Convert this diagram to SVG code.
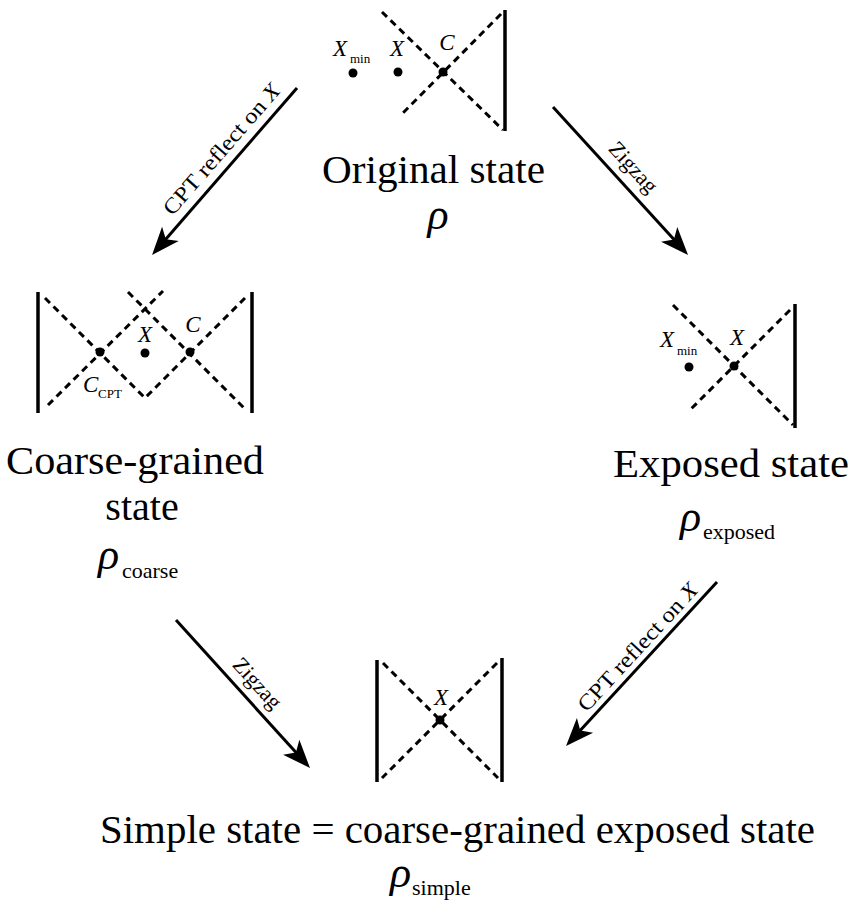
<svg xmlns="http://www.w3.org/2000/svg" width="854" height="901" viewBox="0 0 854 901">
<style>
.dash{stroke:#000;stroke-width:3;stroke-dasharray:7 5;fill:none}
.bar{stroke:#000;stroke-width:3.5;fill:none}
.arr{stroke:#000;stroke-width:3;fill:none;marker-end:url(#ah)}
.dot{fill:#000}
.t{font-family:"Liberation Serif","DejaVu Serif",serif;font-size:40px;fill:#000}
.m{font-family:"Liberation Serif","DejaVu Serif",serif;font-size:44px;font-style:italic;fill:#000}
.s{font-family:"Liberation Serif","DejaVu Serif",serif;font-size:22px;fill:#000}
.l{font-family:"Liberation Serif","DejaVu Serif",serif;font-size:23px;font-style:italic;fill:#000}
.ss{font-family:"Liberation Serif","DejaVu Serif",serif;font-size:13px;fill:#000}
.al{font-family:"Liberation Serif","DejaVu Serif",serif;font-size:22px;fill:#000}
</style>
<defs>
<marker id="ah" markerUnits="userSpaceOnUse" markerWidth="40" markerHeight="30" viewBox="-32 -15 34 30" refX="-10" refY="0" orient="auto">
<path d="M0,0 L-28,-11 L-21,0 L-28,11 Z" fill="#000"/>
</marker>
</defs>

<g id="n-original">
<line class="dash" x1="382" y1="12" x2="503" y2="130"/>
<line class="dash" x1="501" y1="14" x2="400" y2="116"/>
<line class="bar" x1="505" y1="10" x2="505" y2="131"/>
<circle class="dot" cx="353" cy="73" r="4.5"/>
<circle class="dot" cx="398" cy="72" r="4.5"/>
<circle class="dot" cx="443" cy="72" r="4.5"/>
<text class="l" x="333" y="56">X</text><text class="ss" x="350" y="63">min</text>
<text class="l" x="397" y="56" text-anchor="middle">X</text>
<text class="l" x="447" y="50" text-anchor="middle">C</text>
<text class="t" x="322" y="183" textLength="223" lengthAdjust="spacingAndGlyphs">Original state</text>
<text class="m" x="438" y="229" text-anchor="middle">ρ</text>
</g>

<g id="n-coarse">
<polyline class="dash" points="45,298 145,398 245,298"/>
<line class="dash" x1="48" y1="405" x2="163" y2="291"/>
<line class="dash" x1="128" y1="292" x2="245" y2="409"/>
<line class="bar" x1="38" y1="292" x2="38" y2="413"/>
<line class="bar" x1="252" y1="292" x2="252" y2="413"/>
<circle class="dot" cx="100" cy="352" r="4.5"/>
<circle class="dot" cx="145" cy="353" r="4.5"/>
<circle class="dot" cx="190" cy="352" r="4.5"/>
<text class="l" x="145" y="342" text-anchor="middle">X</text>
<text class="l" x="193" y="332" text-anchor="middle">C</text>
<text class="l" x="83" y="392">C</text><text class="ss" x="98" y="398">CPT</text>
<text class="t" x="6" y="474" textLength="258" lengthAdjust="spacingAndGlyphs">Coarse-grained</text>
<text class="t" x="142" y="520" text-anchor="middle">state</text>
<text class="m" x="98" y="569">ρ</text><text class="s" x="122" y="578">coarse</text>
</g>

<g id="n-exposed">
<line class="dash" x1="673" y1="305" x2="793" y2="425"/>
<line class="dash" x1="790" y1="310" x2="690" y2="410"/>
<line class="bar" x1="795" y1="304" x2="795" y2="428"/>
<circle class="dot" cx="689" cy="367" r="4.5"/>
<circle class="dot" cx="734" cy="366" r="4.5"/>
<text class="l" x="660" y="347">X</text><text class="ss" x="677" y="355">min</text>
<text class="l" x="737" y="345" text-anchor="middle">X</text>
<text class="t" x="613" y="477" textLength="236" lengthAdjust="spacingAndGlyphs">Exposed state</text>
<text class="m" x="680" y="531">ρ</text><text class="s" x="703" y="539">exposed</text>
</g>

<g id="n-simple">
<line class="dash" x1="383" y1="663" x2="498" y2="778"/>
<line class="dash" x1="497" y1="663" x2="382" y2="778"/>
<line class="bar" x1="377" y1="660" x2="377" y2="782"/>
<line class="bar" x1="502" y1="658" x2="502" y2="782"/>
<circle class="dot" cx="440" cy="720" r="4.5"/>
<text class="l" x="441" y="705" text-anchor="middle">X</text>
<text class="t" x="100" y="843" textLength="715" lengthAdjust="spacingAndGlyphs">Simple state = coarse-grained exposed state</text>
<text class="m" x="390" y="887">ρ</text><text class="s" x="412" y="895">simple</text>
</g>

<g id="connectors">
<line class="arr" x1="297" y1="88" x2="158.6" y2="247.5"/>
<text class="al" transform="translate(227,154) rotate(-49)" text-anchor="middle" textLength="166" lengthAdjust="spacingAndGlyphs">CPT reflect on <tspan font-style="italic">X</tspan></text>
<line class="arr" x1="553" y1="107" x2="681.3" y2="247.6"/>
<text class="al" transform="translate(628,172) rotate(47.6)" text-anchor="middle" font-size="24">Zigzag</text>
<line class="arr" x1="176" y1="620" x2="303.3" y2="760.6"/>
<text class="al" transform="translate(252,688) rotate(47.6)" text-anchor="middle" font-size="24">Zigzag</text>
<line class="arr" x1="717" y1="582" x2="572.8" y2="738.6"/>
<text class="al" transform="translate(643,652) rotate(-47.3)" text-anchor="middle" textLength="166" lengthAdjust="spacingAndGlyphs">CPT reflect on <tspan font-style="italic">X</tspan></text>
</g>
</svg>
